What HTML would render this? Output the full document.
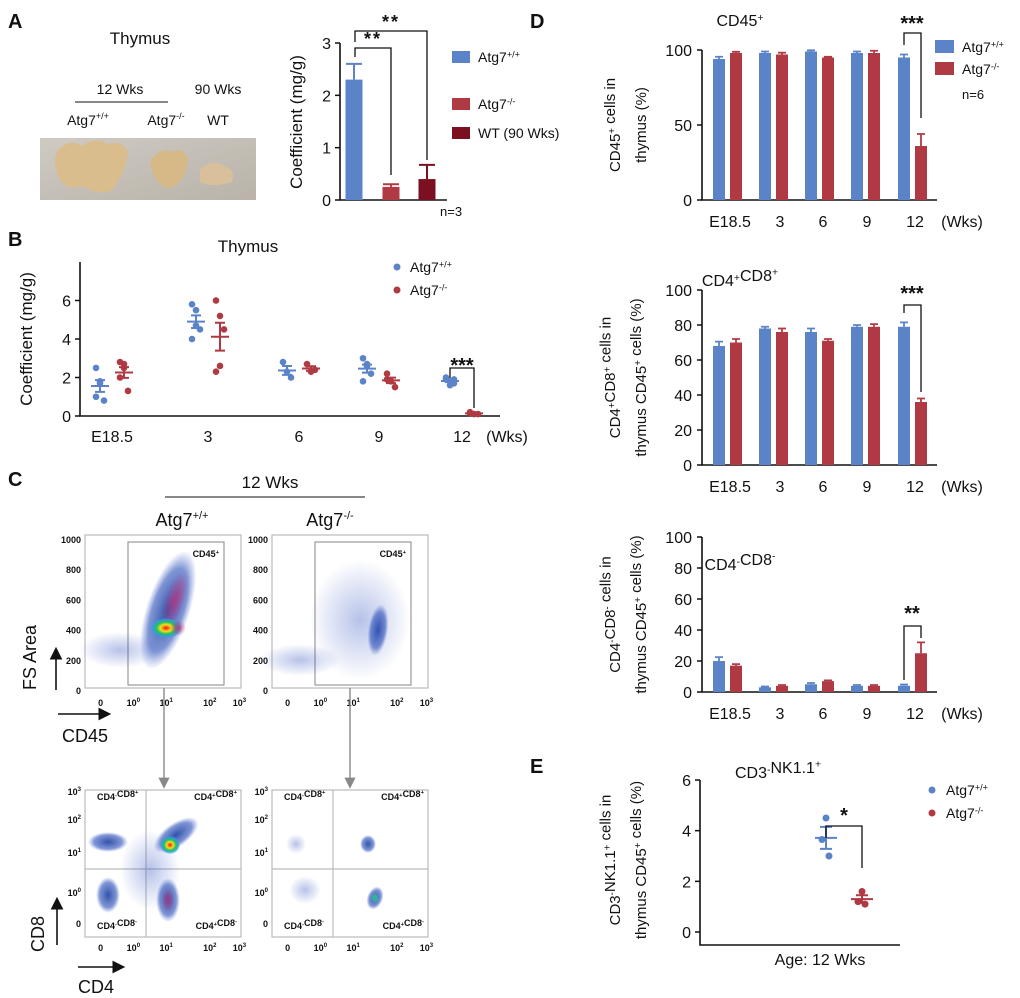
<!DOCTYPE html>
<html><head><meta charset="utf-8">
<style>
html,body{margin:0;padding:0;background:#fff;}
svg{display:block;font-family:"Liberation Sans",Arial,sans-serif;}
.ax{stroke:#111;stroke-width:1.6;fill:none;}
</style></head><body>
<svg id="fig" width="1020" height="998" viewBox="0 0 1020 998">
<defs>
<radialGradient id="gBlue"><stop offset="0" stop-color="#1b3fa0" stop-opacity="0.9"/><stop offset="0.7" stop-color="#2b4fb8" stop-opacity="0.6"/><stop offset="1" stop-color="#4a6ad0" stop-opacity="0"/></radialGradient>
<radialGradient id="gPink"><stop offset="0" stop-color="#c0307a" stop-opacity="0.8"/><stop offset="1" stop-color="#c0307a" stop-opacity="0"/></radialGradient>
<radialGradient id="gHot"><stop offset="0" stop-color="#ff1010"/><stop offset="0.35" stop-color="#f0e020"/><stop offset="0.6" stop-color="#20c060"/><stop offset="0.85" stop-color="#30a0e0" stop-opacity="0.8"/><stop offset="1" stop-color="#30a0e0" stop-opacity="0"/></radialGradient>
<radialGradient id="gSparse"><stop offset="0" stop-color="#3050c0" stop-opacity="0.35"/><stop offset="1" stop-color="#3050c0" stop-opacity="0"/></radialGradient>
<linearGradient id="gPhoto" x1="0" y1="0" x2="1" y2="1"><stop offset="0" stop-color="#cfcac2"/><stop offset="1" stop-color="#b9b3aa"/></linearGradient>
<marker id="arr" markerWidth="8" markerHeight="8" refX="6" refY="4" orient="auto"><path d="M0,0 L8,4 L0,8 z" fill="#111"/></marker>
<marker id="arrG" markerWidth="8" markerHeight="8" refX="6" refY="4" orient="auto"><path d="M0,0 L8,4 L0,8 z" fill="#888"/></marker>
</defs>

<text x="8" y="28" font-size="20" font-weight="bold" fill="#111">A</text>
<text x="140" y="44" text-anchor="middle" font-size="17" fill="#111">Thymus</text>
<text x="120" y="94" text-anchor="middle" font-size="14" fill="#111">12 Wks</text>
<line x1="75" y1="102" x2="168" y2="102" stroke="#111"/>
<text x="218" y="94" text-anchor="middle" font-size="14" fill="#111">90 Wks</text>
<text x="88" y="125" text-anchor="middle" font-size="14" fill="#111">Atg7<tspan font-size="9" dy="-6">+/+</tspan></text>
<text x="166" y="125" text-anchor="middle" font-size="14" fill="#111">Atg7<tspan font-size="9" dy="-6">-/-</tspan></text>
<text x="218" y="125" text-anchor="middle" font-size="14" fill="#111">WT</text>
<g>
<rect x="40" y="138" width="216" height="62" fill="url(#gPhoto)"/>
<path d="M58,150 Q70,138 82,146 Q95,136 108,144 Q122,140 128,152 Q126,172 112,190 Q96,196 84,186 Q66,192 58,176 Q52,160 58,150z" fill="#d9bd8c"/>
<path d="M150,162 Q160,146 172,152 Q184,146 188,160 Q186,182 170,188 Q154,186 150,162z" fill="#d6b986"/>
<path d="M200,170 Q212,158 224,166 Q236,170 232,182 Q214,188 200,182z" fill="#d9c09a"/>
</g>

<g id="chartA"></g>
<text x="8" y="246" font-size="20" font-weight="bold" fill="#111">B</text>
<g id="chartB"></g>

<text x="8" y="486" font-size="20" font-weight="bold" fill="#111">C</text>
<text x="270" y="488" text-anchor="middle" font-size="17" fill="#111">12 Wks</text>
<line x1="165" y1="497" x2="365" y2="497" stroke="#111"/>
<text x="182" y="526" text-anchor="middle" font-size="18" fill="#111">Atg7<tspan font-size="11" dy="-7">+/+</tspan></text>
<text x="330" y="526" text-anchor="middle" font-size="18" fill="#111">Atg7<tspan font-size="11" dy="-7">-/-</tspan></text>
<g id="flow"></g>
<text x="36" y="690" font-size="18" fill="#111" transform="rotate(-90 36 690)">FS Area</text>
<line x1="56" y1="690" x2="56" y2="650" stroke="#111" stroke-width="1.6" marker-end="url(#arr)"/>
<line x1="58" y1="714" x2="108" y2="714" stroke="#111" stroke-width="1.6" marker-end="url(#arr)"/>
<text x="62" y="742" font-size="18" fill="#111">CD45</text>
<text x="44" y="952" font-size="18" fill="#111" transform="rotate(-90 44 952)">CD8</text>
<line x1="57" y1="945" x2="57" y2="900" stroke="#111" stroke-width="1.6" marker-end="url(#arr)"/>
<line x1="78" y1="967" x2="122" y2="967" stroke="#111" stroke-width="1.6" marker-end="url(#arr)"/>
<text x="78" y="993" font-size="18" fill="#111">CD4</text>
<line x1="164" y1="688" x2="164" y2="786" stroke="#888" stroke-width="1.4" marker-end="url(#arrG)"/>
<line x1="350" y1="688" x2="350" y2="786" stroke="#888" stroke-width="1.4" marker-end="url(#arrG)"/>

<text x="530" y="28" font-size="20" font-weight="bold" fill="#111">D</text>
<g id="chartD"></g>
<text x="530" y="773" font-size="20" font-weight="bold" fill="#111">E</text>
<g id="chartE"></g>
</svg>
<script>
// ---------- Chart A data ----------
const aCategories = ["Atg7+/+", "Atg7-/-", "WT (90 Wks)"];
const aValues = [2.3, 0.25, 0.4];
const aErrors = [0.3, 0.05, 0.27];
const aTicks = [0, 1, 2, 3];
// ---------- Chart B data ----------
const bCategories = ["E18.5", "3", "6", "9", "12"];
const bWt = [[2.5, 1.8, 0.8, 1.0, 1.7], [5.8, 5.5, 4.5, 4.0, 4.7], [2.8, 2.3, 2.0], [3.0, 2.7, 2.2, 1.8, 2.6], [1.9, 1.8, 1.7, 2.0, 1.6, 1.9]];
const bKo = [[2.8, 2.5, 1.3, 2.0, 2.7], [6.0, 5.2, 4.5, 2.3, 2.6], [2.7, 2.3, 2.4], [2.2, 1.8, 1.5, 1.9], [0.15, 0.1, 0.1, 0.2]];
const bTicks = [0, 2, 4, 6];
// ---------- Chart D data ----------
const dCategories = ["E18.5", "3", "6", "9", "12"];
const d1Wt = [94, 98, 99, 98, 95];
const d1WtErr = [1.5, 1, 0.8, 1, 2];
const d1Ko = [98, 97, 95, 98, 36];
const d1KoErr = [0.8, 1.2, 0.5, 1.5, 8];
const d1Ticks = [0, 50, 100];
const d2Wt = [68, 78, 76, 79, 79];
const d2WtErr = [2.5, 1, 2, 1, 2.5];
const d2Ko = [70, 76, 71, 79, 36];
const d2KoErr = [2, 2, 1, 1.5, 2];
const d2Ticks = [0, 20, 40, 60, 80, 100];
const d3Wt = [20, 3, 5, 4, 4];
const d3WtErr = [2.5, 0.5, 0.8, 0.5, 0.8];
const d3Ko = [17, 4, 7, 4, 25];
const d3KoErr = [1, 0.5, 0.5, 0.5, 7];
const d3Ticks = [0, 20, 40, 60, 80, 100];
// ---------- Chart E data ----------
const eWt = [4.5, 3.65, 3.0];
const eKo = [1.6, 1.2, 1.1];
const eTicks = [0, 2, 4, 6];

const NS = "http://www.w3.org/2000/svg";
const BLUE = "#5b83c8", RED = "#b03a43", DRED = "#7a1020";
function mk(tag, attrs, parent) {
  const e = document.createElementNS(NS, tag);
  for (const k in attrs) e.setAttribute(k, attrs[k]);
  parent.appendChild(e);
  return e;
}
function txt(parent, x, y, s, size, anchor, extra) {
  const e = mk("text", Object.assign({x: x, y: y, "font-size": size, "text-anchor": anchor || "start", fill: "#111"}, extra || {}), parent);
  e.innerHTML = s;
  return e;
}
const sup = s => '<tspan font-size="0.65em" dy="-0.5em">' + s + '</tspan>';
const mean = a => a.reduce((p, c) => p + c, 0) / a.length;
const sem = a => { const m = mean(a); return Math.sqrt(a.reduce((p, c) => p + (c - m) * (c - m), 0) / (a.length - 1)) / Math.sqrt(a.length); };

// ===== Chart A =====
(function () {
  const g = document.getElementById("chartA");
  const x0 = 340, yTop = 43, yBot = 200, vMax = 3;
  const ys = v => yBot - v / vMax * (yBot - yTop);
  const ax = mk("path", {d: `M${x0},${yTop} V${yBot} H447`, class: "ax"}, g);
  
  
  aTicks.forEach(t => {
    mk("line", {x1: x0 - 5, x2: x0, y1: ys(t), y2: ys(t), stroke: "#111", "stroke-width": 1.5}, g);
    const l = txt(g, x0 - 9, ys(t) + 6, t, 16, "end");
    
    
  });
  const yt = txt(g, 302, 122, "Coefficient (mg/g)", 17, "middle", {transform: "rotate(-90 302 122)"});
  
  
  const cols = [BLUE, RED, DRED], xs = [354, 391, 427], w = 17;
  aValues.forEach((v, i) => {
    const b = mk("rect", {x: xs[i] - w / 2, y: ys(v), width: w, height: yBot - ys(v), fill: cols[i]}, g);
    
    
    const e = mk("path", {d: `M${xs[i]},${ys(v)} V${ys(v + aErrors[i])} M${xs[i] - 8},${ys(v + aErrors[i])} H${xs[i] + 8}`, stroke: cols[i], "stroke-width": 2, fill: "none"}, g);
    
    
  });
  const br1 = mk("path", {d: `M355,57 V48 H391 V175`, stroke: "#111", fill: "none", "stroke-width": 1.3}, g);
  
  
  const s1 = txt(g, 373, 45, "**", 18, "middle", {"font-weight": "bold", "letter-spacing": "2"});
  
  
  const br2 = mk("path", {d: `M355,42 V31 H427 V160`, stroke: "#111", fill: "none", "stroke-width": 1.3}, g);
  
  
  const s2 = txt(g, 391, 28, "**", 18, "middle", {"font-weight": "bold", "letter-spacing": "2"});
  
  
  const n = txt(g, 440, 216, "n=3", 13, "start");
  
  
  const legTxt = ["Atg7" + sup("+/+"), "Atg7" + sup("-/-"), "WT (90 Wks)"];
  const legY = [57, 104, 133];
  legTxt.forEach((s, i) => {
    const r = mk("rect", {x: 452, y: legY[i] - 6, width: 18, height: 12, fill: cols[i]}, g);
    
    
    const l = txt(g, 478, legY[i] + 5, s, 14, "start");
    
    
  });
})();

// ===== Chart B =====
(function () {
  const g = document.getElementById("chartB");
  const x0 = 80, yTop = 262, yBot = 416, vMax = 8;
  const ys = v => yBot - v / vMax * (yBot - yTop);
  const cx = [112, 208, 299, 379, 462];
  const ax = mk("path", {d: `M${x0},${yTop} V${yBot} H500`, class: "ax"}, g);
  
  
  bTicks.forEach(t => {
    mk("line", {x1: x0 - 5, x2: x0, y1: ys(t), y2: ys(t), stroke: "#111", "stroke-width": 1.5}, g);
    const l = txt(g, x0 - 9, ys(t) + 6, t, 16, "end");
    
    
  });
  bCategories.forEach((c, i) => {
    const l = txt(g, cx[i], 442, c, 16, "middle");
    
    
  });
  const wk = txt(g, 507, 442, "(Wks)", 16, "middle");
  
  
  const tt = txt(g, 248, 252, "Thymus", 17, "middle");
  
  
  const yt = txt(g, 32, 339, "Coefficient (mg/g)", 17, "middle", {transform: "rotate(-90 32 339)"});
  
  
  function series(arr, off, col, name) {
    arr.forEach((pts, i) => {
      const x = cx[i] + off;
      pts.forEach((v, j) => {
        const jit = (j % 3 - 1) * 4;
        const p = mk("circle", {cx: x + jit, cy: ys(v), r: 3.3, fill: col}, g);
        
        
      });
      const m = mean(pts), s = sem(pts);
      const e = mk("path", {d: `M${x - 9},${ys(m)} H${x + 9} M${x},${ys(m - s)} V${ys(m + s)} M${x - 5},${ys(m - s)} H${x + 5} M${x - 5},${ys(m + s)} H${x + 5}`, stroke: col, "stroke-width": 2, fill: "none"}, g);
      
      
    });
  }
  series(bWt, -12, BLUE, "b-wt");
  series(bKo, 12, RED, "b-ko");
  const br = mk("path", {d: `M450,378 V368 H474 V408`, stroke: "#111", fill: "none", "stroke-width": 1.3}, g);
  
  
  const st = txt(g, 462, 372, "***", 20, "middle", {"font-weight": "bold"});
  
  
  [["Atg7" + sup("+/+"), BLUE, 272], ["Atg7" + sup("-/-"), RED, 295]].forEach(l => {
    const c = mk("circle", {cx: 397, cy: l[2] - 5, r: 3.5, fill: l[1]}, g);
    
    
    const t = txt(g, 410, l[2], l[0], 14, "start");
    
    
  });
})();

// ===== Flow plots (decorative density) =====
(function () {
  const g = document.getElementById("flow");
  function box(x1, y1, x2, y2, nm) {
    const r = mk("rect", {x: x1, y: y1, width: x2 - x1, height: y2 - y1, fill: "none", stroke: "#bbb", "stroke-width": 1.2}, g);
    
    
  }
  function blob(cx, cy, rx, ry, fill, rot, nm) {
    const e = mk("ellipse", {cx: cx, cy: cy, rx: rx, ry: ry, fill: fill, transform: `rotate(${rot || 0} ${cx} ${cy})`}, g);
    
    
  }
  const bx = [[85, 241], [272, 428]];
  const yTicks = ["1000", "800", "600", "400", "200", "0"];
  const xTicks = ["0", "10<tspan font-size='6' dy='-4'>0</tspan>", "10<tspan font-size='6' dy='-4'>1</tspan>", "10<tspan font-size='6' dy='-4'>2</tspan>", "10<tspan font-size='6' dy='-4'>3</tspan>"];
  const xFr = [0.1, 0.31, 0.52, 0.8, 0.99];
  bx.forEach((b, k) => {
    box(b[0], 535, b[1], 688, k ? "flow-cd45-ko-frame" : "flow-cd45-wt-frame");
    yTicks.forEach((t, i) => {
      const l = txt(g, b[0] - 4, 540 + i * 30.2 + 3, t, 9, "end", {"font-weight": "bold"});
      
      
    });
    xTicks.forEach((t, i) => {
      const l = txt(g, b[0] + xFr[i] * (b[1] - b[0]), 706, t, 9, "middle", {"font-weight": "bold"});
      
      
    });
    const gx = k ? 315 : 128;
    const gate = mk("rect", {x: gx, y: 542, width: b[1] - 17 - gx, height: 143, fill: "none", stroke: "#999", "stroke-width": 1.2}, g);
    
    
    const gl = txt(g, b[1] - 22, 557, "CD45" + sup("+"), 9, "end", {"font-weight": "bold"});
    
    
    box(b[0], 790, b[1], 937, k ? "flow-cd4cd8-ko-frame" : "flow-cd4cd8-wt-frame");
    const qx = k ? 333 : 146;
    mk("path", {d: `M${qx},790 V937 M${b[0]},869 H${b[1]}`, stroke: "#bbb", "stroke-width": 1.2, fill: "none"}, g);
    [["0", 924], ["10<tspan font-size='6' dy='-4'>0</tspan>", 893], ["10<tspan font-size='6' dy='-4'>1</tspan>", 853], ["10<tspan font-size='6' dy='-4'>2</tspan>", 820], ["10<tspan font-size='6' dy='-4'>3</tspan>", 792]].forEach(t => {
      const l = txt(g, b[0] - 4, t[1] + 3, t[0], 9, "end", {"font-weight": "bold"});
      
      
    });
    xTicks.forEach((t, i) => {
      const l = txt(g, b[0] + xFr[i] * (b[1] - b[0]), 951, t, 9, "middle", {"font-weight": "bold"});
      
      
    });
    [["CD4" + sup("-") + "CD8" + sup("+"), b[0] + 12, 800, "start"], ["CD4" + sup("+") + "CD8" + sup("+"), b[1] - 4, 800, "end"], ["CD4" + sup("-") + "CD8" + sup("-"), b[0] + 12, 929, "start"], ["CD4" + sup("+") + "CD8" + sup("-"), b[1] - 4, 929, "end"]].forEach(q => {
      const l = txt(g, q[1], q[2], q[0], 9, q[3], {"font-weight": "bold"});
      
      
    });
  });
  blob(120, 650, 40, 18, "url(#gSparse)", 0, "density-wt-low");
  blob(168, 610, 22, 62, "url(#gBlue)", 18, "density-wt-main");
  blob(175, 600, 10, 30, "url(#gPink)", 18, "density-wt-mid");
  blob(166, 628, 16, 10, "url(#gHot)", 0, "density-wt-core");
  blob(178, 628, 8, 8, "url(#gPink)", 0, "density-wt-core2");
  blob(300, 660, 40, 16, "url(#gSparse)", 0, "density-ko-low");
  blob(378, 630, 10, 26, "url(#gBlue)", 8, "density-ko-main");
  blob(360, 620, 50, 60, "url(#gSparse)", 0, "density-ko-scatter");
  blob(108, 842, 20, 10, "url(#gBlue)", 0, "density-wt-dp-neg");
  blob(108, 895, 12, 18, "url(#gBlue)", 0, "density-wt-dn");
  blob(150, 870, 30, 40, "url(#gSparse)", 0, "density-wt-mid-scatter");
  blob(176, 835, 26, 12, "url(#gBlue)", -35, "density-wt-dp");
  blob(170, 845, 10, 9, "url(#gHot)", 0, "density-wt-dp-core");
  blob(168, 900, 12, 22, "url(#gBlue)", 0, "density-wt-cd4sp");
  blob(168, 900, 6, 12, "url(#gPink)", 0, "density-wt-cd4sp-core");
  blob(296, 844, 10, 10, "url(#gSparse)", 0, "density-ko-cd8sp");
  blob(305, 890, 16, 14, "url(#gSparse)", 0, "density-ko-dn");
  blob(368, 844, 8, 9, "url(#gBlue)", 0, "density-ko-dp");
  blob(375, 898, 8, 12, "url(#gBlue)", 20, "density-ko-cd4sp");
  blob(375, 898, 3, 4, "#30b0a0", 0, "density-ko-cd4sp-core");
})();

// ===== Chart D =====
(function () {
  const g = document.getElementById("chartD");
  const cx = [727, 773, 819, 865, 912];
  const w = 12;
  function panel(wt, wtE, ko, koE, ticks, yTop, yBot, title, titleY, yLines, sig, sigBr, nm) {
    const vMax = ticks[ticks.length - 1];
    const ys = v => yBot - v / vMax * (yBot - yTop);
    const ax = mk("path", {d: `M702,${yTop} V${yBot} H937`, class: "ax"}, g);
    
    
    ticks.forEach(t => {
      mk("line", {x1: 697, x2: 702, y1: ys(t), y2: ys(t), stroke: "#111", "stroke-width": 1.5}, g);
      const l = txt(g, 692, ys(t) + 6, t, 16, "end");
      
      
    });
    const lx = [730, 780, 823, 867, 915];
    dCategories.forEach((c, i) => {
      const l = txt(g, lx[i], yBot + 27, c, 16, "middle");
      
      
    });
    const wk = txt(g, 962, yBot + 27, "(Wks)", 16, "middle");
    
    
    const tt = txt(g, 740, titleY, title, 16, "middle");
    
    
    const mid = (yTop + yBot) / 2;
    yLines.forEach((s, i) => {
      const yx = 620 + i * 26;
      const l = txt(g, yx, mid, s, 15, "middle", {transform: `rotate(-90 ${yx} ${mid})`});
      
      
    });
    [[wt, wtE, BLUE, -8, "-wt"], [ko, koE, RED, 9, "-ko"]].forEach(s => {
      s[0].forEach((v, i) => {
        const x = cx[i] + s[3];
        const b = mk("rect", {x: x - w / 2, y: ys(v), width: w, height: yBot - ys(v), fill: s[2]}, g);
        
        
        const e = mk("path", {d: `M${x},${ys(v)} V${ys(v + s[1][i])} M${x - 4},${ys(v + s[1][i])} H${x + 4}`, stroke: s[2], "stroke-width": 1.8, fill: "none"}, g);
        
        
      });
    });
    const br = mk("path", {d: sigBr, stroke: "#111", fill: "none", "stroke-width": 1.3}, g);
    
    
    const st = txt(g, sig[1], sig[2], sig[0], 20, "middle", {"font-weight": "bold"});
    
    
  }
  panel(d1Wt, d1WtErr, d1Ko, d1KoErr, d1Ticks, 50, 200, "CD45" + sup("+"), 26,
    ["CD45" + sup("+") + " cells in", "thymus (%)"], ["***", 912, 30], "M904,45 V33 H921 V118", "d1");
  panel(d2Wt, d2WtErr, d2Ko, d2KoErr, d2Ticks, 290, 465, "CD4" + sup("+") + "CD8" + sup("+"), 286,
    ["CD4" + sup("+") + "CD8" + sup("+") + " cells in", "thymus CD45" + sup("+") + " cells (%)"], ["***", 912, 300], "M904,313 V305 H921 V392", "d2");
  panel(d3Wt, d3WtErr, d3Ko, d3KoErr, d3Ticks, 537, 692, "CD4" + sup("-") + "CD8" + sup("-"), 570,
    ["CD4" + sup("-") + "CD8" + sup("-") + " cells in", "thymus CD45" + sup("+") + " cells (%)"], ["**", 912, 620], "M904,680 V626 H921 V638", "d3");
  [["Atg7" + sup("+/+"), BLUE, 47], ["Atg7" + sup("-/-"), RED, 69]].forEach(l => {
    const r = mk("rect", {x: 935, y: l[2] - 7, width: 19, height: 13, fill: l[1]}, g);
    
    
    const t = txt(g, 962, l[2] + 5, l[0], 14, "start");
    
    
  });
  const n = txt(g, 962, 99, "n=6", 13, "start");
  
  
})();

// ===== Chart E =====
(function () {
  const g = document.getElementById("chartE");
  const x0 = 700, yTop = 780, yBot = 932, vMax = 6;
  const ys = v => yBot - v / vMax * (yBot - yTop);
  const ax = mk("path", {d: `M${x0},${yTop} V945 H900`, class: "ax"}, g);
  
  
  eTicks.forEach(t => {
    mk("line", {x1: x0 - 5, x2: x0, y1: ys(t), y2: ys(t), stroke: "#111", "stroke-width": 1.5}, g);
    const l = txt(g, x0 - 9, ys(t) + 6, t, 16, "end");
    
    
  });
  const xl = txt(g, 820, 965, "Age: 12 Wks", 16, "middle");
  
  
  const tt = txt(g, 778, 778, "CD3" + sup("-") + "NK1.1" + sup("+"), 16, "middle");
  
  
  [["CD3" + sup("-") + "NK1.1" + sup("+") + " cells in", 620], ["thymus CD45" + sup("+") + " cells (%)", 646]].forEach(s => {
    const l = txt(g, s[1], 860, s[0], 15, "middle", {transform: `rotate(-90 ${s[1]} 860)`});
    
    
  });
  const jit = [0, -4, 3];
  [[eWt, 826, BLUE, "e-wt"], [eKo, 862, RED, "e-ko"]].forEach(s => {
    s[0].forEach((v, j) => {
      const p = mk("circle", {cx: s[1] + jit[j], cy: ys(v), r: 3.5, fill: s[2]}, g);
      
      
    });
    const m = mean(s[0]), se = sem(s[0]), x = s[1];
    const e = mk("path", {d: `M${x - 11},${ys(m)} H${x + 11} M${x},${ys(m - se)} V${ys(m + se)} M${x - 6},${ys(m - se)} H${x + 6} M${x - 6},${ys(m + se)} H${x + 6}`, stroke: s[2], "stroke-width": 2, fill: "none"}, g);
    
    
  });
  const br = mk("path", {d: "M826,838 V826 H862 V868", stroke: "#111", fill: "none", "stroke-width": 1.3}, g);
  
  
  const st = txt(g, 844, 822, "*", 20, "middle", {"font-weight": "bold"});
  
  
  [["Atg7" + sup("+/+"), BLUE, 795], ["Atg7" + sup("-/-"), RED, 818]].forEach(l => {
    const c = mk("circle", {cx: 932, cy: l[2] - 5, r: 3.5, fill: l[1]}, g);
    
    
    const t = txt(g, 946, l[2], l[0], 14, "start");
    
    
  });
})();
</script>
</body></html>
